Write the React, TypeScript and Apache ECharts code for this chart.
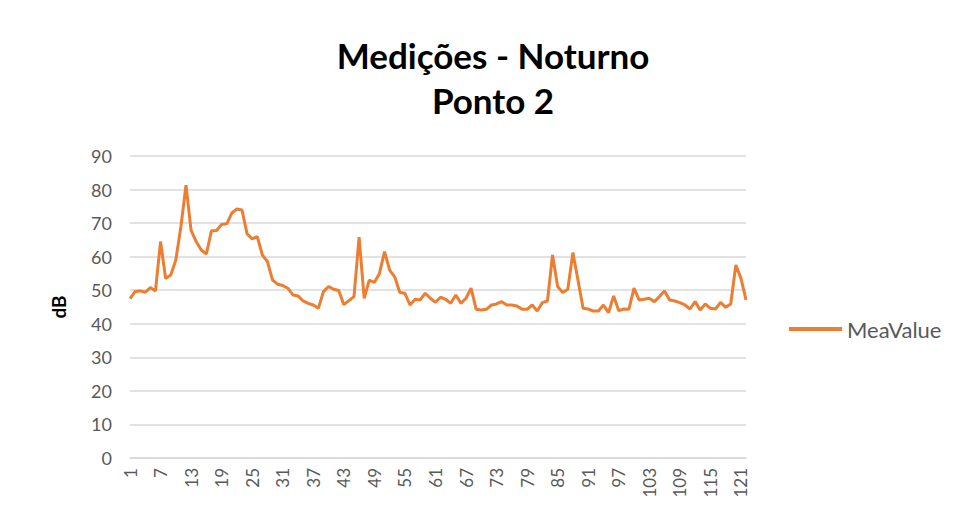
import React, { useEffect, useRef } from "react";
import * as echarts from "echarts";

const TITLE = "Medições - Noturno\nPonto 2";
const SERIES_NAME = "MeaValue";
const Y_NAME = "dB";

const meaValue: number[] = [
  47.5, 49.6, 49.8, 49.4, 50.8, 49.8, 64.5, 53.5, 54.5, 59,
  69, 81.3, 67.8, 64.5, 62, 60.8, 67.7, 67.8, 69.6, 69.8,
  73, 74.2, 73.9, 66.8, 65.3, 66, 60.5, 58.5, 53, 51.8,
  51.4, 50.6, 48.6, 48.3, 46.8, 46.1, 45.6, 44.6, 49.6, 51.1,
  50.3, 49.9, 45.7, 46.9, 48.1, 65.8, 47.6, 53, 52.3, 55,
  61.5, 56, 54, 49.3, 49.1, 45.6, 47.3, 47.1, 49.1, 47.6,
  46.4, 47.9, 47.3, 46.1, 48.6, 46.1, 47.6, 50.6, 44.3, 44.1,
  44.3, 45.6, 45.9, 46.6, 45.6, 45.6, 45.3, 44.3, 44.3, 45.6,
  43.8, 46.3, 46.8, 60.5, 51.1, 49.3, 50.3, 61.2, 53, 44.6,
  44.4, 43.8, 43.8, 45.6, 43.3, 48.3, 43.9, 44.4, 44.3, 50.6,
  47.1, 47.3, 47.6, 46.6, 48.1, 49.8, 47.1, 46.8, 46.3, 45.6,
  44.4, 46.6, 44.1, 45.9, 44.6, 44.4, 46.4, 44.9, 45.9, 57.5,
  53.6, 47.1,
];

const categories: string[] = meaValue.map((_, i) => String(i + 1));

const Y_MIN = 0;
const Y_MAX = 90;
const Y_STEP = 10;

export default function App() {
  const ref = useRef<HTMLDivElement>(null);
  useEffect(() => {
    if (!ref.current) return;
    const chart = echarts.init(ref.current, undefined, { renderer: "svg" });
    const font = "Lato, 'Noto Sans', sans-serif";
    chart.setOption({
      animation: false,
      backgroundColor: "#ffffff",
      title: {
        text: TITLE,
        left: 493,
        top: 32,
        padding: 0,
        textAlign: "center",
        textStyle: {
          fontFamily: font,
          fontSize: 35,
          fontWeight: "bold",
          color: "#000000",
          lineHeight: 45,
        },
      },
      legend: {
        left: 784,
        top: 313,
        itemWidth: 53,
        itemHeight: 4,
        itemGap: 6,
        data: [{ name: SERIES_NAME, icon: "rect" }],
        textStyle: { fontFamily: font, fontSize: 22, color: "#595959" },
      },
      grid: { left: 130, right: 214, top: 156, bottom: 61, containLabel: false },
      xAxis: {
        type: "category",
        data: categories,
        boundaryGap: false,
        axisLine: { lineStyle: { color: "#D9D9D9", width: 1.5 } },
        axisTick: { show: false },
        axisLabel: {
          interval: 5,
          rotate: 90,
          fontFamily: font,
          fontSize: 17,
          color: "#595959",
          margin: 10,
        },
        splitLine: { show: false },
      },
      yAxis: {
        type: "value",
        min: Y_MIN,
        max: Y_MAX,
        interval: Y_STEP,
        name: Y_NAME,
        nameLocation: "middle",
        nameRotate: 90,
        nameGap: 62,
        nameTextStyle: { fontFamily: font, fontSize: 19, fontWeight: "bold", color: "#000000" },
        axisLine: { show: false },
        axisTick: { show: false },
        axisLabel: { fontFamily: font, fontSize: 18, color: "#595959", margin: 18 },
        splitLine: { lineStyle: { color: "#D9D9D9", width: 1.5 } },
      },
      series: [
        {
          name: SERIES_NAME,
          type: "line",
          data: meaValue,
          symbol: "none",
          lineStyle: { color: "#ED7D31", width: 3 },
          itemStyle: { color: "#ED7D31" },
        },
      ],
    });
    return () => chart.dispose();
  }, []);
  return (
    <div
      ref={ref}
      style={{ position: "fixed", left: 0, top: 0, width: 960, height: 519, background: "#fff" }}
    />
  );
}
